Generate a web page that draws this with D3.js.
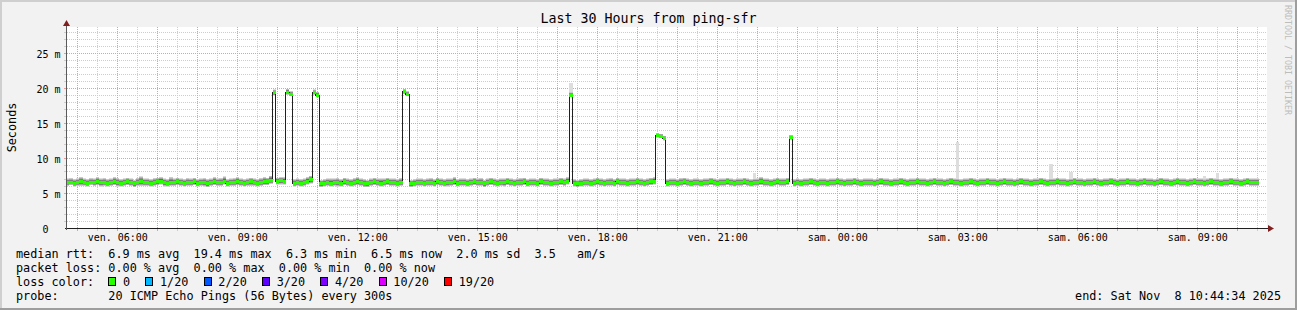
<!DOCTYPE html>
<html>
<head>
<meta charset="utf-8">
<script src="https://cdn.jsdelivr.net/npm/d3@7"></script>
<style>
  body { margin: 0; background: #f2f2f2; }
  text { font-family: "DejaVu Sans Mono", monospace; white-space: pre; }
</style>
</head>
<body>
<div id="chart"></div>
<script>
// time frame of the graph (30 hours, 5 minute steps)
var startTime = new Date(2025, 10, 7, 4, 44, 34),
    endTime = new Date(2025, 10, 8, 10, 44, 34),
    firstStep = new Date(2025, 10, 7, 4, 43, 0),
    stepMinutes = 5;

var yTicks = [0, 5, 10, 15, 20, 25];
var dayNames = ["dim.", "lun.", "mar.", "mer.", "jeu.", "ven.", "sam."];

// median rtt in ms, one value per 5 minutes (12 per row = 1 hour)
var median = [
  6.5,6.5,6.4,6.5,6.6,6.5,6.4,6.5,6.5,6.6,6.5,6.5,
  6.4,6.5,6.6,6.5,6.4,6.5,6.6,6.5,6.3,6.5,6.6,6.5,
  6.5,6.4,6.5,6.6,6.7,6.5,6.4,6.5,6.5,6.6,6.5,6.4,
  6.5,6.5,6.6,6.4,6.5,6.5,6.3,6.5,6.6,6.5,6.5,6.7,
  6.4,6.5,6.5,6.6,6.5,6.4,6.5,6.6,6.5,6.4,6.5,6.6,
  6.6,6.8,19.3,6.7,6.8,6.7,19.4,19.1,6.4,6.5,6.4,6.5,
  6.7,6.9,19.4,19.0,6.3,6.4,6.5,6.4,6.5,6.5,6.4,6.6,
  6.5,6.4,6.5,6.6,6.5,6.4,6.3,6.5,6.6,6.5,6.4,6.5,
  6.6,6.5,6.5,6.4,6.5,19.5,19.1,6.3,6.4,6.5,6.5,6.4,
  6.5,6.5,6.4,6.6,6.5,6.4,6.5,6.5,6.6,6.4,6.5,6.5,
  6.4,6.5,6.6,6.5,6.5,6.3,6.5,6.6,6.5,6.4,6.5,6.5,
  6.6,6.5,6.4,6.5,6.5,6.6,6.4,6.5,6.5,6.4,6.6,6.5,
  6.5,6.4,6.5,6.5,6.6,6.5,6.7,19.0,6.4,6.3,6.4,6.5,
  6.5,6.4,6.5,6.6,6.5,6.4,6.5,6.5,6.4,6.6,6.5,6.5,
  6.4,6.5,6.5,6.6,6.5,6.4,6.5,6.6,6.7,13.2,13.1,12.8,
  6.4,6.5,6.5,6.4,6.5,6.6,6.5,6.4,6.5,6.5,6.4,6.5,
  6.5,6.6,6.5,6.4,6.5,6.5,6.6,6.5,6.4,6.5,6.5,6.6,
  6.5,6.4,6.5,6.5,6.6,6.5,6.5,6.4,6.5,6.6,6.5,6.5,
  6.6,12.9,6.4,6.5,6.4,6.5,6.5,6.6,6.5,6.4,6.5,6.5,
  6.4,6.5,6.5,6.6,6.5,6.4,6.5,6.5,6.6,6.5,6.4,6.5,
  6.5,6.5,6.4,6.5,6.6,6.5,6.5,6.4,6.5,6.5,6.6,6.5,
  6.4,6.5,6.5,6.6,6.5,6.5,6.4,6.5,6.6,6.5,6.5,6.4,
  6.5,6.6,6.5,6.5,6.4,6.5,6.5,6.6,6.5,6.4,6.5,6.5,
  6.6,6.5,6.5,6.4,6.5,6.6,6.5,6.5,6.4,6.5,6.6,6.5,
  6.5,6.4,6.5,6.5,6.6,6.5,6.4,6.5,6.5,6.6,6.5,6.5,
  6.4,6.5,6.6,6.5,6.5,6.4,6.5,6.5,6.6,6.5,6.4,6.5,
  6.5,6.6,6.5,6.4,6.5,6.5,6.6,6.5,6.5,6.4,6.5,6.6,
  6.5,6.5,6.4,6.5,6.6,6.5,6.5,6.4,6.5,6.6,6.5,6.5,
  6.4,6.5,6.6,6.5,6.5,6.4,6.5,6.6,6.5,6.5,6.4,6.5,
  6.5,6.6,6.5,6.5,6.4,6.5,6.6,6.5,6.5,6.5
];

// fastest and slowest of the 20 pings per step (the smoke)
var pingMin = [
  6.0,6.1,5.9,6.0,6.0,6.0,5.9,6.1,6.0,6.1,5.9,6.0,
  5.9,6.0,6.1,5.9,5.9,6.0,6.1,6.0,5.8,6.0,6.0,6.0,
  6.0,5.9,6.0,6.1,6.2,5.9,5.9,6.0,6.0,6.1,6.0,5.9,
  6.0,6.0,6.1,5.9,6.0,5.9,5.8,6.0,6.1,6.0,6.0,6.2,
  5.9,6.0,6.0,6.1,6.0,5.9,6.0,6.0,6.0,5.9,6.0,6.1,
  6.1,6.3,18.9,6.2,6.2,6.2,19.0,18.8,5.9,6.0,5.9,6.0,
  6.2,6.3,19.0,18.7,5.8,5.9,6.0,5.9,6.0,5.9,5.9,6.1,
  6.0,5.9,6.0,6.1,6.0,5.8,5.8,6.0,6.1,6.0,5.9,6.0,
  6.1,6.0,6.0,5.9,6.0,19.1,18.8,5.8,5.9,6.0,6.0,5.9,
  6.0,6.0,5.9,6.1,6.0,5.9,5.9,6.0,6.1,5.9,6.0,6.0,
  5.9,6.0,6.1,6.0,6.0,5.8,6.0,6.1,6.0,5.9,6.0,5.9,
  6.1,6.0,5.9,6.0,6.0,6.1,5.9,6.0,6.0,5.9,6.1,6.0,
  6.0,5.9,6.0,6.0,6.1,6.0,6.2,18.7,5.9,5.8,5.9,6.0,
  6.0,5.9,6.0,6.1,6.0,5.9,6.0,6.0,5.9,6.1,6.0,6.0,
  5.9,6.0,6.0,6.1,6.0,5.9,6.0,6.1,6.2,12.9,12.8,12.5,
  5.9,6.0,6.0,5.9,6.0,6.1,6.0,5.9,6.0,6.0,5.9,6.0,
  6.0,6.1,6.0,5.9,6.0,6.0,6.1,6.0,5.9,6.0,6.0,6.1,
  6.0,5.9,6.0,6.0,6.1,6.0,6.0,5.9,6.0,6.1,6.0,6.0,
  6.1,12.6,5.9,6.0,5.9,6.0,6.0,6.1,6.0,5.9,6.0,6.0,
  5.9,6.0,6.0,6.1,6.0,5.9,6.0,6.0,6.1,6.0,5.9,6.0,
  6.0,6.0,5.9,6.0,6.1,6.0,6.0,5.9,6.0,6.0,6.1,6.0,
  5.9,6.0,6.0,6.1,6.0,6.0,5.9,6.0,6.1,6.0,6.0,5.9,
  6.0,6.1,6.0,6.0,5.9,6.0,6.0,6.1,6.0,5.9,6.0,6.0,
  6.1,6.0,6.0,5.9,6.0,6.1,6.0,6.0,5.9,6.0,6.1,6.0,
  6.0,5.9,6.0,6.0,6.1,6.0,5.9,6.0,6.0,6.1,6.0,6.0,
  5.9,6.0,6.1,6.0,6.0,5.9,6.0,6.0,6.1,6.0,5.9,6.0,
  6.0,6.1,6.0,5.9,6.0,6.0,6.1,6.0,6.0,5.9,6.0,6.1,
  6.0,6.0,5.9,6.0,6.1,6.0,6.0,5.9,6.0,6.1,6.0,6.0,
  5.9,6.0,6.1,6.0,6.0,5.9,6.0,6.1,6.0,6.0,5.9,6.0,
  6.0,6.1,6.0,6.0,5.9,6.0,6.1,6.0,6.0,6.0
];

var pingMax = [
  7.1,7.2,7.0,7.1,7.3,7.1,7.0,7.2,7.1,7.3,7.1,7.2,
  7.0,7.1,7.3,7.2,7.0,7.1,7.2,7.1,6.9,7.2,7.4,7.1,
  7.1,7.0,7.2,7.2,7.3,7.1,7.0,7.3,7.1,7.2,7.1,7.0,
  7.2,7.1,7.2,7.0,7.1,7.2,7.0,7.1,7.3,7.1,7.2,7.4,
  7.0,7.1,7.2,7.3,7.1,7.0,7.1,7.2,7.1,7.0,7.2,7.3,
  7.2,7.5,19.8,7.2,7.3,7.3,19.9,19.6,7.0,7.1,7.0,7.1,
  7.3,7.5,19.8,19.5,6.9,7.0,7.1,7.1,7.1,7.2,7.0,7.2,
  7.1,7.0,7.2,7.3,7.1,7.0,6.9,7.1,7.2,7.1,7.1,7.1,
  7.2,7.1,7.1,7.0,7.2,19.9,19.6,6.9,7.0,7.1,7.1,7.0,
  7.1,7.2,7.0,7.2,7.1,7.0,7.1,7.1,7.3,7.0,7.1,7.1,
  7.0,7.1,7.2,7.1,7.2,6.9,7.1,7.2,7.1,7.0,7.1,7.1,
  7.2,7.1,7.0,7.1,7.2,7.2,7.0,7.1,7.1,7.0,7.2,7.1,
  7.1,7.0,7.1,7.1,7.2,7.1,7.3,19.4,7.0,6.9,7.0,7.1,
  7.1,7.0,7.1,7.2,7.1,7.0,7.1,7.2,7.0,7.2,7.1,7.1,
  7.0,7.1,7.1,7.2,7.1,7.0,7.1,7.2,7.3,13.6,13.5,13.2,
  7.0,7.1,7.1,7.0,7.2,7.2,7.1,7.0,7.1,7.1,7.0,7.1,
  7.1,7.2,7.1,7.0,7.1,7.1,7.2,7.1,7.0,7.1,7.1,7.2,
  7.1,7.0,7.1,7.1,7.3,7.1,7.1,7.0,7.1,7.2,7.1,7.1,
  7.2,13.3,7.0,7.1,7.0,7.1,7.1,7.2,7.1,7.0,7.1,7.1,
  7.0,7.1,7.1,7.2,7.1,7.0,7.1,7.1,7.2,7.1,7.0,7.1,
  7.1,7.1,7.0,7.1,7.2,7.1,7.1,7.0,7.1,7.1,7.2,7.1,
  7.0,7.1,7.1,7.2,7.1,7.1,7.0,7.1,7.2,7.1,7.1,7.0,
  7.1,7.2,7.1,7.1,7.0,7.1,7.1,7.2,7.1,7.0,7.1,7.1,
  7.2,7.1,7.1,7.0,7.1,7.2,7.1,7.1,7.0,7.1,7.2,7.1,
  7.1,7.0,7.1,7.1,7.2,7.1,7.0,7.1,7.1,7.2,7.1,7.1,
  7.0,7.1,7.2,7.1,7.1,7.0,7.1,7.1,7.2,7.1,7.0,7.1,
  7.1,7.2,7.1,7.0,7.1,7.1,7.2,7.1,7.1,7.0,7.1,7.2,
  7.1,7.1,7.0,7.1,7.2,7.1,7.1,7.0,7.1,7.2,7.1,7.1,
  7.0,7.1,7.2,7.1,7.1,7.0,7.1,7.2,7.1,7.1,7.0,7.1,
  7.1,7.2,7.1,7.1,7.0,7.1,7.2,7.1,7.1,7.1
];

// single slow pings sticking out of the smoke: [step index, ms]
var outliers = [[151, 20.7], [206, 7.8], [267, 12.3], [295, 9.1], [301, 8.0], [341, 7.4], [345, 7.8]];

var lossLabels = ["0", "1/20", "2/20", "3/20", "4/20", "10/20", "19/20"];
var lossColors = ["#26ff00", "#00b8ff", "#0059ff", "#5e00ff", "#7e00ff", "#dd00ff", "#ff0000"];

var legendRtt = "median rtt:  6.9 ms avg  19.4 ms max  6.3 ms min  6.5 ms now  2.0 ms sd  3.5   am/s";
var legendLoss = "packet loss: 0.00 % avg  0.00 % max  0.00 % min  0.00 % now";
var legendProbe = "probe:       20 ICMP Echo Pings (56 Bytes) every 300s";
var legendEnd = "end: Sat Nov  8 10:44:34 2025";

// dimensions of the image and of the plot canvas
var W = 1297, H = 310,
    plotLeft = 67, plotRight = 1267, plotTop = 27, plotBottom = 228;

var svg = d3.select("#chart")
  .append("svg")
    .attr("width", W)
    .attr("height", H);

// background and 3d frame
svg.append("rect").attr("width", W).attr("height", H).attr("fill", "#f2f2f2");
svg.append("rect").attr("x", 0).attr("y", 0).attr("width", W).attr("height", 2).attr("fill", "#cfcfcf");
svg.append("rect").attr("x", 0).attr("y", 0).attr("width", 2).attr("height", H).attr("fill", "#cfcfcf");
svg.append("rect").attr("x", 0).attr("y", H - 2).attr("width", W).attr("height", 2).attr("fill", "#9e9e9e");
svg.append("rect").attr("x", W - 2).attr("y", 0).attr("width", 2).attr("height", H).attr("fill", "#9e9e9e");

// canvas
svg.append("rect")
  .attr("x", plotLeft).attr("y", plotTop)
  .attr("width", plotRight - plotLeft).attr("height", plotBottom - plotTop)
  .attr("fill", "#ffffff");

var x = d3.scaleTime().domain([startTime, endTime]).range([plotLeft, plotRight]);
var y = d3.scaleLinear().domain([0, (plotBottom - plotTop) / 7]).range([plotBottom, plotTop]);

// grid
var grid = svg.append("g").attr("shape-rendering", "crispEdges");
var px = function(v) { return Math.floor(v) + 0.5; };

var minorTimes = d3.timeMinute.every(30).range(startTime, endTime).filter(function(d) { return d.getMinutes() !== 0; });
var majorTimes = d3.timeHour.range(startTime, endTime);
var minorVals = d3.range(1, 29).filter(function(v) { return v % 5 !== 0; });
var majorVals = yTicks.filter(function(v) { return v > 0; });

function vLines(times, color) {
  grid.selectAll(null).data(times).enter().append("line")
    .attr("x1", function(d) { return px(x(d)); }).attr("x2", function(d) { return px(x(d)); })
    .attr("y1", plotTop).attr("y2", plotBottom)
    .attr("stroke", color).attr("stroke-dasharray", "1,1");
  grid.selectAll(null).data(times).enter().append("line")
    .attr("x1", function(d) { return px(x(d)); }).attr("x2", function(d) { return px(x(d)); })
    .attr("y1", plotBottom).attr("y2", plotBottom + 3)
    .attr("stroke", color);
}
function hLines(vals, color) {
  grid.selectAll(null).data(vals).enter().append("line")
    .attr("x1", plotLeft).attr("x2", plotRight)
    .attr("y1", function(d) { return px(y(d)); }).attr("y2", function(d) { return px(y(d)); })
    .attr("stroke", color).attr("stroke-dasharray", "1,1");
  grid.selectAll(null).data(vals).enter().append("line")
    .attr("x1", plotLeft - 3).attr("x2", plotLeft)
    .attr("y1", function(d) { return px(y(d)); }).attr("y2", function(d) { return px(y(d)); })
    .attr("stroke", color);
}
vLines(minorTimes, "#cdcdcd");
hLines(minorVals, "#cdcdcd");
vLines(majorTimes, "#ee9a9a");
hLines(majorVals, "#ee9a9a");

// the data steps
var steps = median.map(function(m, i) {
  return { t: d3.timeMinute.offset(firstStep, i * stepMinutes), med: m, lo: pingMin[i], hi: pingMax[i] };
});
var last = steps[steps.length - 1];
var stepsClosed = steps.concat([{ t: d3.timeMinute.offset(last.t, stepMinutes), med: last.med, lo: last.lo, hi: last.hi }]);

svg.append("clipPath").attr("id", "clip")
  .append("rect").attr("x", plotLeft).attr("y", plotTop).attr("width", plotRight - plotLeft).attr("height", plotBottom - plotTop);

var plot = svg.append("g").attr("clip-path", "url(#clip)").attr("shape-rendering", "crispEdges");

// smoke: 10 stacked layers, light outside, dark near the median
d3.range(10).forEach(function(j) {
  var c = Math.floor(190 / 10 * (10 - (j + 1))) + 50;
  plot.append("path")
    .datum(stepsClosed)
    .attr("fill", d3.rgb(c, c, c))
    .attr("d", d3.area()
      .curve(d3.curveStepAfter)
      .x(function(d) { return x(d.t); })
      .y0(function(d) { return y(d.lo + (d.med - d.lo) * j / 10); })
      .y1(function(d) { return y(d.hi - (d.hi - d.med) * j / 10); }));
});

// outlier pings
plot.selectAll(null).data(outliers).enter().append("rect")
  .attr("x", function(d) { return x(steps[d[0]].t); })
  .attr("width", function(d) { return x(d3.timeMinute.offset(steps[d[0]].t, stepMinutes)) - x(steps[d[0]].t); })
  .attr("y", function(d) { return y(d[1]); })
  .attr("height", function(d) { return y(steps[d[0]].hi) - y(d[1]); })
  .attr("fill", "#dddddd");

// median line
plot.append("path")
  .datum(stepsClosed)
  .attr("fill", "none")
  .attr("stroke", "#202020")
  .attr("stroke-width", 1)
  .attr("d", d3.line()
    .curve(d3.curveStepAfter)
    .x(function(d) { return x(d.t); })
    .y(function(d) { return y(d.med); }));

// median coloured by loss (all 0 loss here)
plot.selectAll(null).data(steps).enter().append("rect")
  .attr("x", function(d) { return x(d.t); })
  .attr("width", function(d) { return x(d3.timeMinute.offset(d.t, stepMinutes)) - x(d.t); })
  .attr("y", function(d) { return y(d.med) - 1.5; })
  .attr("height", 3)
  .attr("fill", lossColors[0]);

// axes
var fontFam = "'DejaVu Sans Mono', monospace";
var xAxis = d3.axisBottom(x)
  .ticks(d3.timeHour.every(3))
  .tickSize(0).tickPadding(6)
  .tickFormat(function(d) { return dayNames[d.getDay()] + " " + d3.timeFormat("%H:%M")(d); });
svg.append("g")
  .attr("transform", "translate(0," + plotBottom + ")")
  .call(xAxis)
  .attr("font-family", fontFam).attr("font-size", 10)
  .call(function(g) { g.select(".domain").remove(); })
  .selectAll("text").attr("fill", "#000");

var yAxis = d3.axisLeft(y)
  .tickValues(yTicks)
  .tickSize(0).tickPadding(6.5)
  .tickFormat(function(d) { return d === 0 ? "0  " : d + " m"; });
svg.append("g")
  .attr("transform", "translate(" + plotLeft + ",0)")
  .call(yAxis)
  .attr("font-family", fontFam).attr("font-size", 10)
  .call(function(g) { g.select(".domain").remove(); })
  .selectAll("text").attr("fill", "#000").attr("dy", "0.47em");

// axis lines and arrows
svg.append("line").attr("x1", plotLeft - 2).attr("x2", plotRight + 3).attr("y1", plotBottom + 0.5).attr("y2", plotBottom + 0.5)
  .attr("stroke", "#1f1f1f").attr("shape-rendering", "crispEdges");
svg.append("line").attr("x1", plotLeft - 0.5).attr("x2", plotLeft - 0.5).attr("y1", plotBottom + 2).attr("y2", plotTop - 3)
  .attr("stroke", "#5a5a5a").attr("shape-rendering", "crispEdges");
svg.append("path").attr("d", "M" + (plotRight + 1) + "," + (plotBottom - 3) + "L" + (plotRight + 7) + "," + (plotBottom + 0.5) + "L" + (plotRight + 1) + "," + (plotBottom + 4) + "Z")
  .attr("fill", "#801f1f");
svg.append("path").attr("d", "M" + (plotLeft - 4) + "," + (plotTop - 1) + "L" + (plotLeft - 0.5) + "," + (plotTop - 7) + "L" + (plotLeft + 3) + "," + (plotTop - 1) + "Z")
  .attr("fill", "#801f1f");

// titles
svg.append("text")
  .attr("x", W / 2).attr("y", 23.3)
  .attr("text-anchor", "middle")
  .attr("font-size", 13.3)
  .text("Last 30 Hours from ping-sfr");

svg.append("text")
  .attr("transform", "translate(15.5," + ((plotTop + plotBottom) / 2) + ") rotate(-90)")
  .attr("text-anchor", "middle")
  .attr("font-size", 11.8)
  .text("Seconds");

svg.append("text")
  .attr("transform", "translate(1285,5) rotate(90)")
  .attr("font-size", 8.3)
  .attr("fill", "#bdbdbd")
  .text("RRDTOOL / TOBI OETIKER");

// legend
var legend = svg.append("g").attr("font-size", 11.8);
var rowY = [258.3, 272.1, 285.9, 299.7];
legend.append("text").attr("x", 16).attr("y", rowY[0]).text(legendRtt);
legend.append("text").attr("x", 16).attr("y", rowY[1]).text(legendLoss);
legend.append("text").attr("x", 16).attr("y", rowY[2]).text("loss color:");
legend.append("text").attr("x", 16).attr("y", rowY[3]).text(legendProbe);
legend.append("text").attr("x", 1281).attr("y", rowY[3]).attr("text-anchor", "end").text(legendEnd);

var bx = 108.3;
lossLabels.forEach(function(lab, i) {
  legend.append("rect")
    .attr("x", Math.round(bx) + 0.5).attr("y", rowY[2] - 8.5)
    .attr("width", 7).attr("height", 8)
    .attr("fill", lossColors[i]).attr("stroke", "#000").attr("stroke-width", 1)
    .attr("shape-rendering", "crispEdges");
  var t = legend.append("text").attr("x", bx + 14.7).attr("y", rowY[2]).text(lab);
  bx = bx + 14.7 + t.node().getComputedTextLength() + 15.2;
});
</script>
</body>
</html>
